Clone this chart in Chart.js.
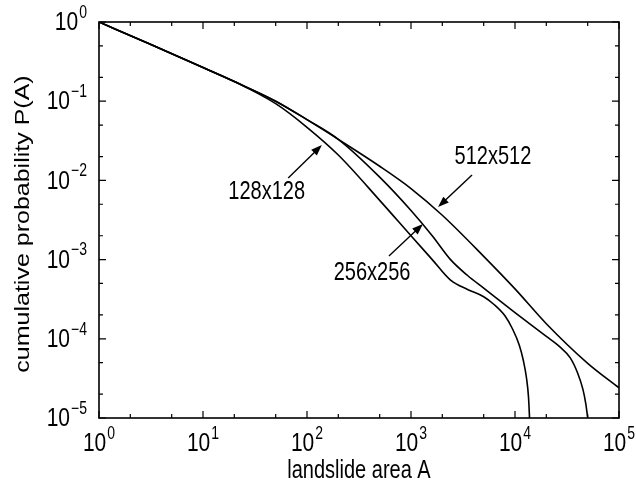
<!DOCTYPE html>
<html>
<head>
<meta charset="utf-8">
<script src="https://cdn.jsdelivr.net/npm/chart.js@4/dist/chart.umd.min.js"></script>
<style>
  html, body { margin: 0; padding: 0; background: #fff; }
  #wrap { width: 636px; height: 490px; }
</style>
</head>
<body>
<div id="wrap"><canvas id="chart"></canvas></div>
<script>
// ── data (landslide area A vs cumulative probability P) ──
const area128 = [1, 3, 10, 20, 50, 100, 200, 500, 1000, 1600, 2400, 3500, 5000, 6200, 8000, 9500, 11000, 12000, 12900, 13500, 13800];
const prob128 = [1, 0.535, 0.266, 0.177, 0.093, 0.0468, 0.0209, 0.0056, 0.0020, 1.0e-3, 5.5e-4, 4.2e-4, 3.4e-4, 2.75e-4, 1.95e-4, 1.32e-4, 8.3e-5, 5.4e-5, 3.2e-5, 1.8e-5, 1e-5];

const area256 = [1, 3, 10, 20, 50, 100, 200, 500, 1000, 1600, 2400, 3500, 5000, 10000, 20000, 27000, 34000, 40000, 45000, 48000, 50000];
const prob256 = [1, 0.535, 0.266, 0.177, 0.10, 0.0585, 0.033, 0.011, 0.00417, 0.0020, 1.0e-3, 6.3e-4, 4.37e-4, 2.14e-4, 1.07e-4, 7.9e-5, 5.75e-5, 3.7e-5, 2.3e-5, 1.5e-5, 1e-5];

const area512 = [1, 3, 10, 20, 50, 100, 200, 500, 1000, 2000, 5000, 10000, 20000, 50000, 100000];
const prob512 = [1, 0.535, 0.266, 0.177, 0.10, 0.0585, 0.033, 0.0151, 0.0079, 0.00363, 1.1e-3, 4.27e-4, 1.55e-4, 4.9e-5, 2.4e-5];

const xTickExps = [0, 1, 2, 3, 4, 5];
const yTickExps = [0, -1, -2, -3, -4, -5];
const minorSteps = [2, 5];

// arrow labels, in data units: text centre, arrow tail, arrow head
const notes = [
  { text: "128x128", at: [41, 7.1e-3],   from: [66, 0.0107],   to: [139, 0.028] },
  { text: "256x256", at: [422, 6.8e-4],  from: [614, 1.11e-3], to: [1303, 2.82e-3] },
  { text: "512x512", at: [6140, 0.0197], from: [3860, 0.0117], to: [1820, 4.6e-3] },
];

const FONT = '"Liberation Sans", Arial, sans-serif';
const STRETCH = 1.25;   // the reference text is drawn taller than wide

function pts(xs, ys) {
  return xs.map((x, i) => ({ x: x, y: ys[i] }));
}

function curve(data) {
  return {
    data: data,
    borderColor: "#000",
    borderWidth: 1.6,
    pointRadius: 0,
    fill: false,
    cubicInterpolationMode: "monotone",
  };
}

/* ──────────────────────────────────────────────────────────────
   Frame, inward ticks, superscript tick labels, titles, arrows
   ────────────────────────────────────────────────────────────── */
function text(ctx, str, x, y, size, align) {
  ctx.save();
  ctx.translate(x, y);
  ctx.scale(1, STRETCH);
  ctx.font = size + "px " + FONT;
  ctx.textAlign = align || "left";
  ctx.textBaseline = "middle";
  ctx.fillText(str, 0, 0);
  ctx.restore();
}

function power(ctx, exp, x, y, align) {
  const base = "10", sup = String(exp).replace("-", "\u2212");
  ctx.font = "21px " + FONT;
  const wb = ctx.measureText(base).width;
  ctx.font = "14px " + FONT;
  const ws = ctx.measureText(sup).width;
  const left = align === "right" ? x - wb - ws - 1 : x - (wb + ws + 1) / 2;
  text(ctx, base, left, y, 21);
  text(ctx, sup, left + wb + 1, y - 10, 14);
}

function arrow(ctx, x0, y0, x1, y1) {
  const ang = Math.atan2(y1 - y0, x1 - x0);
  const len = 11, half = 4;
  ctx.beginPath();
  ctx.moveTo(x0, y0);
  ctx.lineTo(x1 - Math.cos(ang) * len * 0.8, y1 - Math.sin(ang) * len * 0.8);
  ctx.stroke();
  ctx.beginPath();
  ctx.moveTo(x1, y1);
  ctx.lineTo(x1 - Math.cos(ang) * len - Math.sin(ang) * half, y1 - Math.sin(ang) * len + Math.cos(ang) * half);
  ctx.lineTo(x1 - Math.cos(ang) * len + Math.sin(ang) * half, y1 - Math.sin(ang) * len - Math.cos(ang) * half);
  ctx.closePath();
  ctx.fill();
}

const decorations = {
  id: "decorations",
  afterDatasetsDraw(chart) {
    const { ctx, chartArea: a, scales: { x, y } } = chart;
    ctx.save();
    ctx.strokeStyle = "#000";
    ctx.fillStyle = "#000";

    // frame
    ctx.lineWidth = 1.6;
    ctx.strokeRect(a.left, a.top, a.right - a.left, a.bottom - a.top);

    // ticks
    ctx.lineWidth = 1.2;
    ctx.beginPath();
    xTickExps.forEach((e, i) => {
      const px = x.getPixelForValue(Math.pow(10, e));
      ctx.moveTo(px, a.bottom); ctx.lineTo(px, a.bottom - 7);
      ctx.moveTo(px, a.top);    ctx.lineTo(px, a.top + 7);
      if (i < xTickExps.length - 1) minorSteps.forEach(m => {
        const pm = x.getPixelForValue(m * Math.pow(10, e));
        ctx.moveTo(pm, a.bottom); ctx.lineTo(pm, a.bottom - 4);
        ctx.moveTo(pm, a.top);    ctx.lineTo(pm, a.top + 4);
      });
    });
    yTickExps.forEach((e, i) => {
      const py = y.getPixelForValue(Math.pow(10, e));
      ctx.moveTo(a.left, py);  ctx.lineTo(a.left + 7, py);
      ctx.moveTo(a.right, py); ctx.lineTo(a.right - 7, py);
      if (i < yTickExps.length - 1) minorSteps.forEach(m => {
        const pm = y.getPixelForValue(m * Math.pow(10, e - 1));
        ctx.moveTo(a.left, pm);  ctx.lineTo(a.left + 4, pm);
        ctx.moveTo(a.right, pm); ctx.lineTo(a.right - 4, pm);
      });
    });
    ctx.stroke();

    // tick labels
    xTickExps.forEach(e => power(ctx, e, x.getPixelForValue(Math.pow(10, e)), a.bottom + 26, "center"));
    yTickExps.forEach(e => power(ctx, e, a.left - 12, y.getPixelForValue(Math.pow(10, e)) + 1, "right"));

    // axis titles
    text(ctx, "landslide area A", (a.left + a.right) / 2, 471, 20, "center");
    ctx.save();
    ctx.translate(23, 224);
    ctx.scale(1, STRETCH);
    ctx.rotate(-Math.PI / 2);
    ctx.font = "20px " + FONT;
    ctx.textAlign = "center";
    ctx.textBaseline = "middle";
    ctx.fillText("cumulative probability P(A)", 0, 0);
    ctx.restore();

    // arrow labels
    ctx.lineWidth = 1.4;
    notes.forEach(n => {
      text(ctx, n.text, x.getPixelForValue(n.at[0]), y.getPixelForValue(n.at[1]), 20, "center");
      arrow(ctx,
        x.getPixelForValue(n.from[0]), y.getPixelForValue(n.from[1]),
        x.getPixelForValue(n.to[0]), y.getPixelForValue(n.to[1]));
    });
    ctx.restore();
  },
};

new Chart(document.getElementById("chart"), {
  type: "line",
  data: {
    datasets: [
      curve(pts(area128, prob128)),
      curve(pts(area256, prob256)),
      curve(pts(area512, prob512)),
    ],
  },
  options: {
    responsive: true, maintainAspectRatio: false,
    animation: false,
    layout: { padding: { left: 91, right: 17, top: 22, bottom: 64 } },
    plugins: { legend: { display: false }, tooltip: { enabled: false } },
    scales: {
      x: {
        type: "logarithmic", min: 1, max: 1e5,
        ticks: { display: false }, grid: { display: false }, border: { display: false },
      },
      y: {
        type: "logarithmic", min: 1e-5, max: 1,
        ticks: { display: false }, grid: { display: false }, border: { display: false },
      },
    },
  },
  plugins: [decorations],
});
</script>
</body>
</html>
